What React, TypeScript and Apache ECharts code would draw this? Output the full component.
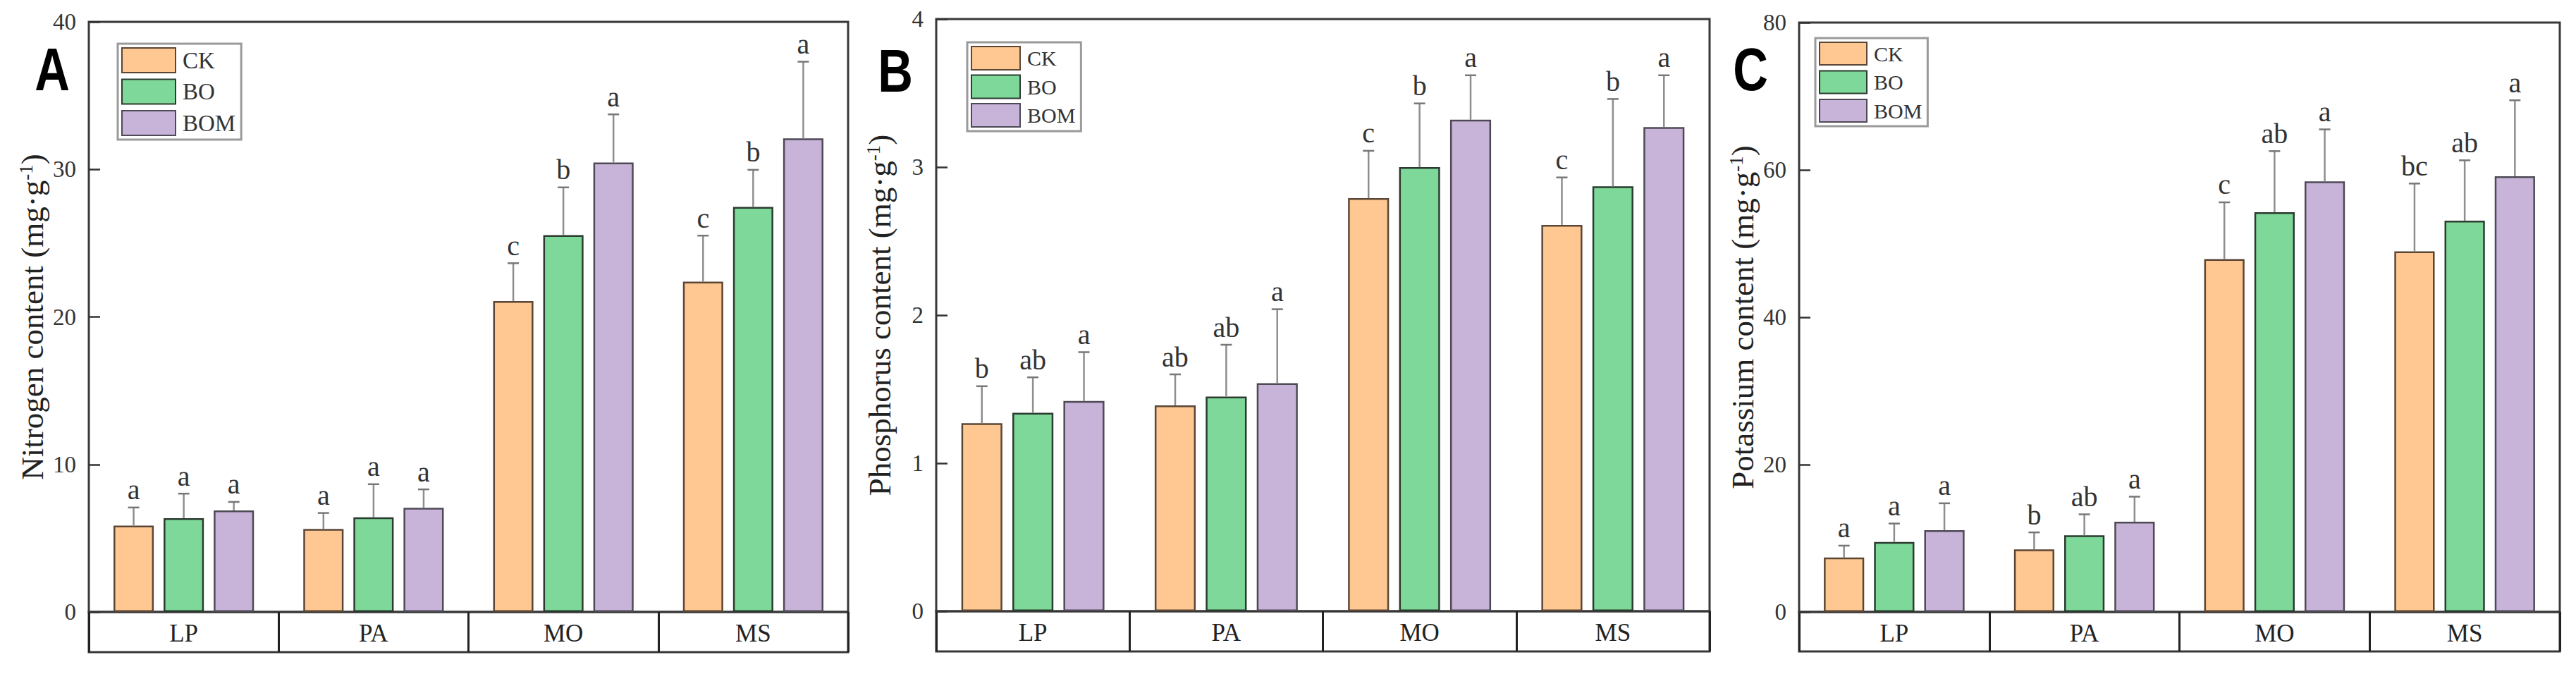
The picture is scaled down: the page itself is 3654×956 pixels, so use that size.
import React, { useEffect, useRef } from 'react';
import * as echarts from 'echarts';

const categories = ['LP', 'PA', 'MO', 'MS'];
const treatments = ['CK', 'BO', 'BOM'];

// Panel A – Nitrogen (mg·g-1)
const nitrogenCK = [5.86, 5.63, 21.08, 22.39];
const nitrogenBO = [6.36, 6.41, 25.54, 27.46];
const nitrogenBOM = [6.88, 7.06, 30.47, 32.1];
const nitrogenErrCK = [1.22, 1.08, 2.56, 3.12];
const nitrogenErrBO = [1.66, 2.25, 3.24, 2.51];
const nitrogenErrBOM = [0.58, 1.25, 3.26, 5.2];
const nitrogenSigCK = ['a', 'a', 'c', 'c'];
const nitrogenSigBO = ['a', 'a', 'b', 'b'];
const nitrogenSigBOM = ['a', 'a', 'a', 'a'];

// Panel B – Phosphorus
const phosphorusCK = [1.27, 1.39, 2.79, 2.61];
const phosphorusBO = [1.34, 1.45, 3.0, 2.87];
const phosphorusBOM = [1.42, 1.54, 3.32, 3.27];
const phosphorusErrCK = [0.25, 0.21, 0.32, 0.32];
const phosphorusErrBO = [0.24, 0.35, 0.43, 0.59];
const phosphorusErrBOM = [0.33, 0.5, 0.3, 0.35];
const phosphorusSigCK = ['b', 'ab', 'c', 'c'];
const phosphorusSigBO = ['ab', 'ab', 'b', 'b'];
const phosphorusSigBOM = ['a', 'a', 'a', 'a'];

// Panel C – Potassium
const potassiumCK = [7.4, 8.5, 47.9, 48.95];
const potassiumBO = [9.5, 10.4, 54.25, 53.1];
const potassiumBOM = [11.1, 12.25, 58.45, 59.15];
const potassiumErrCK = [1.6, 2.3, 7.7, 9.2];
const potassiumErrBO = [2.5, 2.85, 8.3, 8.2];
const potassiumErrBOM = [3.65, 3.4, 7.05, 10.3];
const potassiumSigCK = ['a', 'b', 'c', 'bc'];
const potassiumSigBO = ['a', 'ab', 'ab', 'ab'];
const potassiumSigBOM = ['a', 'a', 'a', 'a'];

const SERIF = "'Liberation Serif', 'Times New Roman', serif";
const fills = ['#FFC893', '#7ED89A', '#C8B3D9'];
const borders = ['#5b4636', '#2b3b2f', '#4e4a55'];

const BAR_W = 0.212;
const BAR_GAP = 0.245;

const panels = [
  {
    letter: 'A', letterPos: [74, 99],
    name: 'Nitrogen content (mg·g{sup|-1})', max: 40, interval: 10,
    means: [nitrogenCK, nitrogenBO, nitrogenBOM],
    errs: [nitrogenErrCK, nitrogenErrBO, nitrogenErrBOM],
    sig: [nitrogenSigCK, nitrogenSigBO, nitrogenSigBOM],
    grid: { left: 126, top: 31, width: 1077, height: 837, box: 57 },
    legend: { left: 167, top: 62, w: 76, h: 35, gap: 7.5, font: 33 },
  },
  {
    letter: 'B', letterPos: [1270, 101],
    name: 'Phosphorus content (mg·g{sup|-1})', max: 4, interval: 1,
    means: [phosphorusCK, phosphorusBO, phosphorusBOM],
    errs: [phosphorusErrCK, phosphorusErrBO, phosphorusErrBOM],
    sig: [phosphorusSigCK, phosphorusSigBO, phosphorusSigBOM],
    grid: { left: 1328, top: 27, width: 1097, height: 840, box: 57 },
    legend: { left: 1372, top: 60, w: 69, h: 33, gap: 5.5, font: 30 },
  },
  {
    letter: 'C', letterPos: [2483, 99],
    name: 'Potassium content (mg·g{sup|-1})', max: 80, interval: 20,
    means: [potassiumCK, potassiumBO, potassiumBOM],
    errs: [potassiumErrCK, potassiumErrBO, potassiumErrBOM],
    sig: [potassiumSigCK, potassiumSigBO, potassiumSigBOM],
    grid: { left: 2552, top: 32, width: 1079, height: 836, box: 56 },
    legend: { left: 2575, top: 54, w: 67, h: 32, gap: 6.5, font: 30 },
  },
];

function buildOption() {
  const grid: any[] = [];
  const xAxis: any[] = [];
  const yAxis: any[] = [];
  const series: any[] = [];
  const legend: any[] = [];
  const graphic: any[] = [];

  panels.forEach((p, k) => {
    const g = p.grid;
    const gi = 2 * k;
    grid.push({ left: g.left, top: g.top, width: g.width, height: g.height, show: true, borderColor: '#383838', borderWidth: 3, containLabel: false });
    grid.push({ left: g.left, top: g.top + g.height, width: g.width, height: g.box, show: true, borderColor: '#383838', borderWidth: 3, containLabel: false });

    xAxis.push({ gridIndex: gi, type: 'category', data: categories, show: false });
    xAxis.push({
      gridIndex: gi + 1, type: 'category', data: categories, position: 'top',
      axisLine: { show: false }, axisTick: { show: false },
      axisLabel: { inside: true, interval: 0, margin: 30, fontSize: 35, color: '#222', fontFamily: SERIF, verticalAlign: 'middle' },
      splitLine: { show: true, interval: 0, lineStyle: { color: '#222', width: 3 } },
    });

    yAxis.push({
      gridIndex: gi, type: 'value', min: 0, max: p.max, interval: p.interval,
      name: p.name, nameLocation: 'middle', nameGap: 58,
      nameTextStyle: {
        fontFamily: SERIF, fontSize: 45, color: '#222',
        rich: { sup: { fontFamily: SERIF, fontSize: 27, color: '#222', verticalAlign: 'top' } },
      },
      axisLine: { show: false },
      axisTick: { show: true, inside: true, length: 16, lineStyle: { color: '#333', width: 2.5 } },
      axisLabel: { margin: 18, fontSize: 33, color: '#333', fontFamily: SERIF },
      splitLine: { show: false },
    });
    yAxis.push({ gridIndex: gi + 1, type: 'value', show: false, min: 0, max: 1 });

    treatments.forEach((t, ti) => {
      series.push({
        type: 'bar', name: t, xAxisIndex: gi, yAxisIndex: gi,
        data: p.means[ti], barWidth: `${BAR_W * 100}%`, barGap: `${BAR_GAP * 100}%`,
        itemStyle: { color: fills[ti], borderColor: borders[ti], borderWidth: 2.5 },
        z: 2,
      });
    });
    treatments.forEach((t, ti) => {
      const offset = (ti - 1) * BAR_W * (1 + BAR_GAP);
      const sig = p.sig[ti];
      series.push({
        type: 'custom', name: `${t}-err-${k}`, xAxisIndex: gi, yAxisIndex: gi, z: 5,
        data: categories.map((_, i) => [i, p.means[ti][i], p.means[ti][i] + p.errs[ti][i]]),
        renderItem: (params: any, api: any) => {
          const i = api.value(0);
          const pm = api.coord([i, api.value(1)]);
          const pt = api.coord([i, api.value(2)]);
          const band = api.size([1, 0])[0];
          const x = pm[0] + offset * band;
          const cap = 8;
          return {
            type: 'group',
            children: [
              { type: 'line', shape: { x1: x, y1: pm[1], x2: x, y2: pt[1] }, style: { stroke: '#8e8e8e', lineWidth: 2.5 } },
              { type: 'line', shape: { x1: x - cap, y1: pt[1], x2: x + cap, y2: pt[1] }, style: { stroke: '#777', lineWidth: 2.5 } },
              { type: 'text', x, y: pt[1] - 5, style: { text: sig[params.dataIndex], fill: '#333', font: `40px ${SERIF}`, textAlign: 'center', textVerticalAlign: 'bottom' } },
            ],
          };
        },
      });
    });

    const L = p.legend;
    legend.push({
      data: treatments, orient: 'vertical', left: L.left, top: L.top,
      itemWidth: L.w, itemHeight: L.h, itemGap: L.gap, icon: 'rect',
      padding: [5, 8, 5, 5], borderColor: '#9a9a9a', borderWidth: 3, backgroundColor: '#fff',
      selectedMode: false,
      textStyle: { fontFamily: SERIF, fontSize: L.font, color: '#333', padding: [0, 0, 0, 5] },
    });

    graphic.push({
      type: 'text', x: p.letterPos[0], y: p.letterPos[1], z: 10, scaleX: 0.8, scaleY: 1,
      style: { text: p.letter, fill: '#000', font: `bold 86px 'Liberation Sans', Arial, sans-serif`, lineHeight: 66, textAlign: 'center', textVerticalAlign: 'middle' },
    });
  });

  return { animation: false, backgroundColor: '#fff', grid, xAxis, yAxis, series, legend, graphic };
}

export default function App() {
  const ref = useRef<HTMLDivElement>(null);
  useEffect(() => {
    if (!ref.current) return;
    const chart = echarts.init(ref.current, undefined, { renderer: 'svg' });
    chart.setOption(buildOption() as any);
    return () => chart.dispose();
  }, []);
  return <div ref={ref} style={{ position: 'fixed', left: 0, top: 0, width: 3654, height: 956, background: '#fff' }} />;
}
